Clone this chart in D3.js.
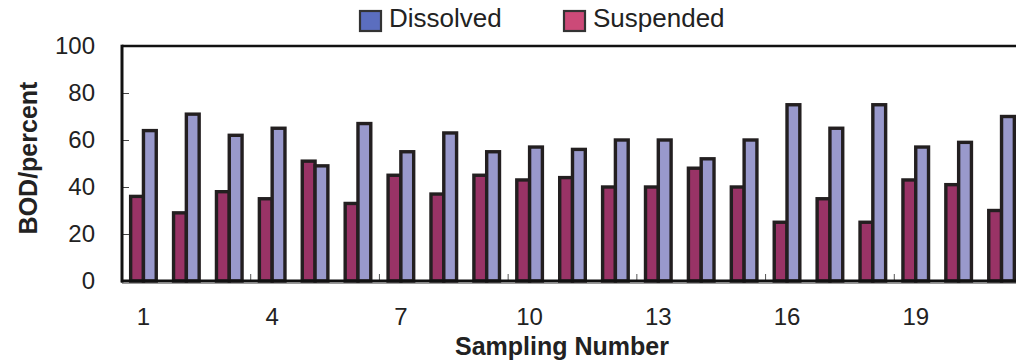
<!DOCTYPE html>
<html>
<head>
<meta charset="utf-8">
<script src="https://cdn.jsdelivr.net/npm/d3@7"></script>
<style>
  html, body { margin: 0; padding: 0; background: #fff; }
  svg { display: block; }
  text { font-family: "Liberation Sans", Arial, sans-serif; fill: #222; }
</style>
</head>
<body>
<svg id="chart" width="1016" height="360"></svg>
<script>
// Sampling numbers 1..21
const categories = ["1","2","3","4","5","6","7","8","9","10","11","12","13","14","15","16","17","18","19","20","21"];
// BOD share (%) carried by suspended and dissolved fractions
const suspended = [36, 29, 38, 35, 51, 33, 45, 37, 45, 43, 44, 40, 40, 48, 40, 25, 35, 25, 43, 41, 30];
const dissolved = [64, 71, 62, 65, 49, 67, 55, 63, 55, 57, 56, 60, 60, 52, 60, 75, 65, 75, 57, 59, 70];
const seriesNames = ["Suspended", "Dissolved"];
const yTicks = [0, 20, 40, 60, 80, 100];
const xLabels = ["1", "4", "7", "10", "13", "16", "19"];
const xBoundaryTicks = ["4", "7", "10", "13", "16", "19"];

const barColor = { Suspended: "#993366", Dissolved: "#9999cc" };
const legendColor = { Dissolved: "#5b6ebf", Suspended: "#cc4a78" };

const svg = d3.select("#chart");
const plotLeft = 122, plotRight = 1023, plotTop = 46, plotBottom = 281;

const x0 = d3.scaleBand().domain(categories).range([plotLeft, plotRight]).paddingInner(0).paddingOuter(0);
const bw = x0.bandwidth();
const barW = 12.8;
const x1 = d3.scaleBand().domain(seriesNames)
  .range([bw / 2 - barW, bw / 2 + barW]).padding(0);
const y = d3.scaleLinear().domain([0, 100]).range([plotBottom, plotTop]);

const rows = categories.map((c, i) => ({
  cat: c,
  values: [
    { key: "Suspended", value: suspended[i] },
    { key: "Dissolved", value: dissolved[i] }
  ]
}));

// Bars
const groups = svg.append("g").selectAll("g").data(rows).join("g")
  .attr("transform", d => `translate(${x0(d.cat)},0)`);
groups.selectAll("rect").data(d => d.values).join("rect")
  .attr("x", d => x1(d.key))
  .attr("y", d => y(d.value))
  .attr("width", x1.bandwidth())
  .attr("height", d => y(0) - y(d.value))
  .attr("fill", d => barColor[d.key])
  .attr("stroke", "#231f20")
  .attr("stroke-width", 3.4)
  .attr("stroke-linejoin", "miter");

// Y axis: labels outside, small ticks pointing inward
const yAxis = svg.append("g")
  .attr("transform", `translate(${plotLeft},0)`)
  .call(d3.axisLeft(y).tickValues(yTicks).tickSizeInner(-7).tickSizeOuter(0).tickPadding(27));
yAxis.select(".domain").remove();
yAxis.selectAll("line").attr("stroke", "#444").attr("stroke-width", 1);
yAxis.selectAll("text").style("font-size", "24px").style("fill", "#222");

// X axis labels every third sampling number
const xAxis = svg.append("g")
  .attr("transform", `translate(0,${plotBottom})`)
  .call(d3.axisBottom(x0).tickValues(xLabels).tickSize(0).tickPadding(27));
xAxis.select(".domain").remove();
xAxis.selectAll("text").style("font-size", "24px").style("fill", "#222");

// Inward tick marks on category boundaries
svg.append("g").selectAll("line").data(xBoundaryTicks).join("line")
  .attr("x1", d => x0(d)).attr("x2", d => x0(d))
  .attr("y1", plotBottom).attr("y2", plotBottom - 7)
  .attr("stroke", "#555").attr("stroke-width", 1);

// Plot frame
svg.append("line").attr("x1", plotLeft).attr("x2", 1016).attr("y1", plotTop).attr("y2", plotTop)
  .attr("stroke", "#111").attr("stroke-width", 2.6);
svg.append("line").attr("x1", plotLeft).attr("x2", 1016).attr("y1", plotBottom + 2.5).attr("y2", plotBottom + 2.5)
  .attr("stroke", "#999").attr("stroke-width", 1);
svg.append("line").attr("x1", plotLeft - 1).attr("x2", 1016).attr("y1", plotBottom).attr("y2", plotBottom)
  .attr("stroke", "#111").attr("stroke-width", 3);
svg.append("line").attr("x1", plotLeft).attr("x2", plotLeft).attr("y1", plotTop - 1.3).attr("y2", plotBottom + 1.5)
  .attr("stroke", "#111").attr("stroke-width", 3);

// Axis titles
svg.append("text")
  .attr("x", 562).attr("y", 355)
  .attr("text-anchor", "middle")
  .style("font-size", "25px").style("font-weight", "bold")
  .text("Sampling Number");
svg.append("text")
  .attr("transform", "translate(28,158) rotate(-90)")
  .attr("text-anchor", "middle").attr("dy", "0.35em")
  .style("font-size", "25px").style("font-weight", "bold")
  .text("BOD/percent");

// Legend
const legendItems = [
  { key: "Dissolved", x: 360 },
  { key: "Suspended", x: 564 }
];
const lg = svg.append("g").selectAll("g").data(legendItems).join("g")
  .attr("transform", d => `translate(${d.x},11)`);
lg.append("rect")
  .attr("width", 21).attr("height", 20)
  .attr("fill", d => legendColor[d.key])
  .attr("stroke", "#333").attr("stroke-width", 2.2);
lg.append("text")
  .attr("x", 29).attr("y", 16)
  .style("font-size", "26px")
  .text(d => d.key);
</script>
</body>
</html>
